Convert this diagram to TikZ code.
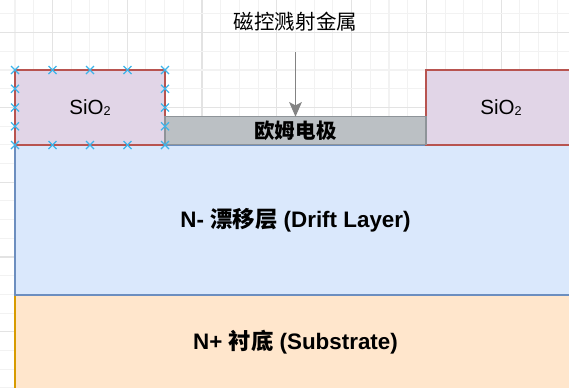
\documentclass[tikz,border=0pt]{standalone}
\usepackage{fontspec}
\setmainfont{Liberation Sans}
\newfontfamily\cjk{Noto Sans CJK SC}
\usetikzlibrary{arrows.meta}
\definecolor{gridminor}{HTML}{F2F2F2}
\definecolor{gridmajor}{HTML}{E3E3E3}
\definecolor{sioFill}{HTML}{E1D5E7}
\definecolor{sioLine}{HTML}{B85450}
\definecolor{ohmFill}{HTML}{BBC0C4}
\definecolor{ohmLine}{HTML}{8E9499}
\definecolor{driftFill}{HTML}{DAE8FC}
\definecolor{driftLine}{HTML}{6C8EBF}
\definecolor{subFill}{HTML}{FFE6CC}
\definecolor{subLine}{HTML}{D79B00}
\definecolor{arrowGray}{HTML}{838383}
\definecolor{handleBlue}{HTML}{3DB4EA}
\tikzset{
  layer/.style={draw, line width=1.1pt, inner sep=0pt, outer sep=0pt, anchor=north west},
  sio/.style={layer, fill=sioFill, draw=sioLine, font=\fontsize{15.4}{18}\selectfont},
  ohm/.style={layer, fill=ohmFill, draw=ohmLine, font=\fontsize{15.4}{18}\selectfont\bfseries},
  drift/.style={layer, fill=driftFill, draw=driftLine, font=\fontsize{16.8}{20}\selectfont\bfseries},
  subst/.style={layer, fill=subFill, draw=subLine, font=\fontsize{16.8}{20}\selectfont\bfseries},
  plainlabel/.style={inner sep=0pt, font=\fontsize{15.4}{18}\selectfont},
  feed/.style={draw=arrowGray, line width=1.2pt, -{Stealth[length=11pt,width=9.5pt,inset=2.5pt]}},
  handle/.style={draw=handleBlue, line width=0.9pt},
}
\newcommand{\sioTxt}{SiO\raisebox{-0.15ex}{\fontsize{9.5}{11}\selectfont 2}}
\begin{document}
\begin{tikzpicture}[x=0.75pt, y=-0.75pt]
  \useasboundingbox (0,0) rectangle (569,387);
  % background grid
  \foreach \k in {-1,...,30} {
    \pgfmathtruncatemacro{\m}{mod(\k+40-2,4)}
    \ifnum\m=0
      \draw[gridmajor, line width=0.8pt] ({15+18.7*\k},0) -- ({15+18.7*\k},387);
    \else
      \draw[gridminor, line width=0.8pt] ({15+18.7*\k},0) -- ({15+18.7*\k},387);
    \fi
  }
  \foreach \k in {-4,...,17} {
    \pgfmathtruncatemacro{\m}{mod(\k+40-2,4)}
    \ifnum\m=0
      \draw[gridmajor, line width=0.8pt] (0,{70+18.7*\k}) -- (569,{70+18.7*\k});
    \else
      \draw[gridminor, line width=0.8pt] (0,{70+18.7*\k}) -- (569,{70+18.7*\k});
    \fi
  }
  % layers
  \node[subst, minimum width=420.75pt, minimum height=70.1pt] (sub) at (15,295) {N+ {\cjk 衬底} (Substrate)};
  \node[drift, minimum width=420.75pt, minimum height=112.5pt] (drift) at (15,145) {N- {\cjk 漂移层} (Drift Layer)};
  \node[sio, minimum width=112.5pt, minimum height=56.25pt] (sioL) at (15,70) {\sioTxt};
  \node[sio, minimum width=112.5pt, minimum height=56.25pt] (sioR) at (426,70) {\sioTxt};
  \node[ohm, minimum width=195.75pt, minimum height=21pt] (ohm) at (165,116.75) {\cjk 欧姆电极};
  % sputtering label and arrow
  \node[plainlabel] (sputter) at (295.5,22) {\cjk 磁控溅射金属};
  \coordinate (arrowStart) at (295.5,52);
  \draw[feed] (arrowStart) -- (ohm.north);
  % selection handles on the left SiO2
  \foreach \hx/\hy in {15/70,52.5/70,90/70,127.5/70,165/70,
                       15/145,52.5/145,90/145,127.5/145,165/145,
                       15/88.75,15/107.5,15/126.25,
                       165/88.75,165/107.5,165/126.25} {
    \draw[handle] (\hx-4,\hy-4) -- (\hx+4,\hy+4);
    \draw[handle] (\hx-4,\hy+4) -- (\hx+4,\hy-4);
  }
\end{tikzpicture}
\end{document}
